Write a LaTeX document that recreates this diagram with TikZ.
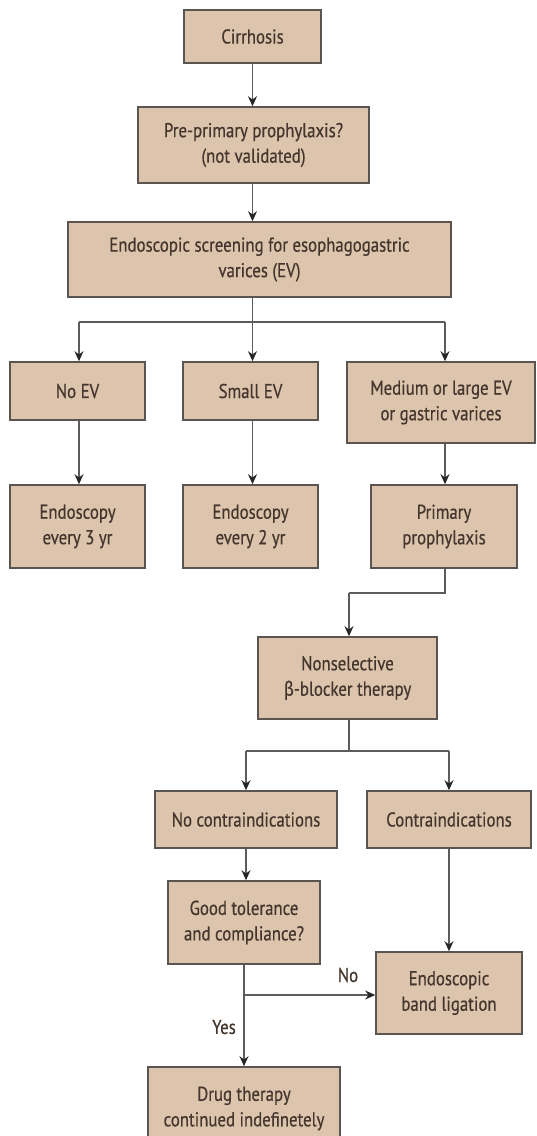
\documentclass[tikz,border=0pt]{standalone}
\usepackage{fontspec}
\setmainfont[FakeStretch=0.84,FakeBold=0.5]{PT Sans}
\newfontfamily\grkfont[FakeStretch=0.84,FakeBold=0.3]{Fira Sans}
\usetikzlibrary{arrows.meta}
\definecolor{boxfill}{HTML}{DCC4AD}
\definecolor{boxline}{HTML}{5A5550}
\definecolor{txt}{HTML}{45362D}
\definecolor{conn}{HTML}{5C5C5C}
\definecolor{tip}{HTML}{262626}
\tikzset{
  box/.style={draw=boxline, line width=1.6pt, fill=boxfill, text=txt, align=center,
    inner sep=0pt, font=\fontsize{20}{25.5}\selectfont},
  conn/.style={draw=conn, line width=1.2pt, -{Stealth[length=10pt,width=9pt,color=tip]}},
  plain/.style={draw=conn, line width=1.2pt},
  lbl/.style={text=txt, font=\fontsize{20}{25.5}\selectfont, inner sep=0pt}
}
\begin{document}
\begin{tikzpicture}[x=1pt,y=-1pt]
\useasboundingbox (0,0) rectangle (537,1136);
\clip (0,0) rectangle (537,1136);
\node[box, minimum width=137pt, minimum height=53pt] (cir) at (252.5,36.5) {Cirrhosis};
\node[box, minimum width=231pt, minimum height=76pt] (pre) at (253.5,145) {Pre-primary prophylaxis?\\(not validated)};
\node[box, minimum width=383pt, minimum height=75pt] (scr) at (259.5,259.5) {Endoscopic screening for esophagogastric\\varices (EV)};
\node[box, minimum width=135pt, minimum height=58pt] (noev) at (77.5,391) {No EV};
\node[box, minimum width=135pt, minimum height=58pt] (sev) at (250.5,391) {Small EV};
\node[box, minimum width=188pt, minimum height=81pt] (med) at (441,402.5) {Medium or large EV\\or gastric varices};
\node[box, minimum width=135pt, minimum height=83pt] (e3) at (77.5,526.5) {Endoscopy\\every 3 yr};
\node[box, minimum width=135pt, minimum height=83pt] (e2) at (250.5,526.5) {Endoscopy\\every 2 yr};
\node[box, minimum width=146pt, minimum height=83pt] (pp) at (444,526.5) {Primary\\prophylaxis};
\node[box, minimum width=179pt, minimum height=82pt] (nsb) at (347.5,678) {Nonselective\\{\grkfont β}-blocker therapy};
\node[box, minimum width=182pt, minimum height=57pt] (nci) at (246,819.5) {No contraindications};
\node[box, minimum width=164pt, minimum height=57pt] (ci) at (449,819.5) {Contraindications};
\node[box, minimum width=152pt, minimum height=83pt] (gt) at (244,922.5) {Good tolerance\\and compliance?};
\node[box, minimum width=146pt, minimum height=82pt] (ebl) at (449,993) {Endoscopic\\band ligation};
\node[box, minimum width=192pt, minimum height=83pt] (drug) at (244,1108.5) {Drug therapy\\continued indefinetely};

\coordinate (b1) at (252.5,322);
\coordinate (b1l) at (79,322);
\coordinate (b1r) at (445,322);
\coordinate (b2) at (445,593);
\coordinate (b2l) at (349,593);
\coordinate (b3) at (349,751);
\coordinate (b3l) at (246,751);
\coordinate (b3r) at (449,751);
\coordinate (b4) at (244,995);

\draw[conn] (cir.south) -- (cir.south |- pre.north);
\draw[conn] (cir.south |- pre.south) -- (cir.south |- scr.north);
\draw[plain] (b1 |- scr.south) -- (b1);
\draw[plain] (b1l) -- (b1r);
\draw[conn] (b1l) -- (b1l |- noev.north);
\draw[conn] (b1) -- (b1 |- sev.north);
\draw[conn] (b1r) -- (b1r |- med.north);
\draw[conn] (b1l |- noev.south) -- (b1l |- e3.north);
\draw[conn] (b1 |- sev.south) -- (b1 |- e2.north);
\draw[conn] (b1r |- med.south) -- (b1r |- pp.north);
\draw[plain] (b2 |- pp.south) -- (b2) -- (b2l);
\draw[conn] (b2l) -- (b2l |- nsb.north);
\draw[plain] (b3 |- nsb.south) -- (b3);
\draw[plain] (b3l) -- (b3r);
\draw[conn] (b3l) -- (b3l |- nci.north);
\draw[conn] (b3r) -- (b3r |- ci.north);
\draw[conn] (b3l |- nci.south) -- (b3l |- gt.north);
\draw[conn] (b3r |- ci.south) -- (b3r |- ebl.north);
\draw[conn] (b4 |- gt.south) -- (b4 |- drug.north);
\draw[conn] (b4) -- (b4 -| ebl.west);
\node[lbl] (no) at (348,975) {No};
\node[lbl] (yes) at (224,1027) {Yes};
\end{tikzpicture}
\end{document}
